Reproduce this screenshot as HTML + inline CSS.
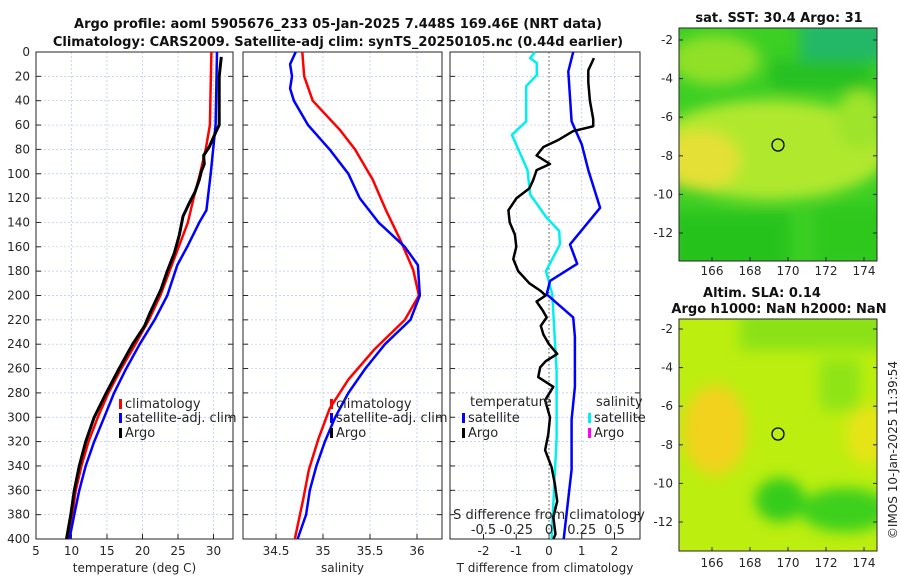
<!DOCTYPE html>
<html><head><meta charset="utf-8"><style>
body{margin:0;background:#fff;width:900px;height:580px;overflow:hidden}
svg{display:block;font-family:"DejaVu Sans","Liberation Sans",sans-serif}
.t{font-size:13px;font-weight:bold;fill:#111}
.k{font-size:12px;fill:#262626}
.lg{font-size:13px}
</style></head><body>
<svg id="fig" width="900" height="580" viewBox="0 0 900 580">
<defs>
<filter id="bl" x="-20%" y="-20%" width="140%" height="140%"><feGaussianBlur stdDeviation="7"/></filter>
<clipPath id="c1"><rect x="679" y="28" width="198" height="233"/></clipPath>
<clipPath id="c2"><rect x="679" y="319" width="198" height="232"/></clipPath>
</defs>
<text class="t" x="338" y="28" text-anchor="middle">Argo profile: aoml 5905676_233 05-Jan-2025 7.448S 169.46E (NRT data)</text>
<text class="t" x="338" y="46" text-anchor="middle">Climatology: CARS2009. Satellite-adj clim: synTS_20250105.nc (0.44d earlier)</text>
<g id="panels"></g>
<g clip-path="url(#c1)">
<rect x="679" y="28" width="198" height="233" fill="#3ccf24"/>
<g filter="url(#bl)">
<rect x="800" y="20" width="90" height="40" fill="#22b868"/>
<ellipse cx="770" cy="150" rx="120" ry="50" fill="#b0e82e"/>
<ellipse cx="700" cy="160" rx="40" ry="30" fill="#e4e034"/>
<ellipse cx="715" cy="60" rx="45" ry="25" fill="#8fe028"/>
<ellipse cx="860" cy="120" rx="25" ry="30" fill="#9ee42a"/>
<rect x="670" y="212" width="120" height="60" fill="#26c21e"/>
<rect x="815" y="205" width="80" height="60" fill="#2fc81e"/>
<rect x="770" y="60" width="100" height="30" fill="#28c022"/>
</g>
<circle cx="778" cy="145" r="6" fill="none" stroke="#000" stroke-width="1.3"/>
</g>
<rect x="679" y="28" width="198" height="233" fill="none" stroke="#262626"/>
<g clip-path="url(#c2)">
<rect x="679" y="319" width="198" height="232" fill="#bcee10"/>
<g filter="url(#bl)">
<rect x="740" y="310" width="150" height="40" fill="#8ae212"/>
<ellipse cx="715" cy="430" rx="32" ry="45" fill="#f2d21e"/>
<ellipse cx="868" cy="435" rx="22" ry="30" fill="#e6e414"/>
<ellipse cx="780" cy="500" rx="25" ry="22" fill="#34cc1e"/>
<ellipse cx="845" cy="510" rx="45" ry="22" fill="#3cd01e"/>
<rect x="820" y="360" width="40" height="50" fill="#8ee412"/>
</g>
<circle cx="778" cy="434" r="6" fill="none" stroke="#000" stroke-width="1.3"/>
</g>
<rect x="679" y="319" width="198" height="232" fill="none" stroke="#262626"/>
<text class="t" x="779" y="22" text-anchor="middle">sat. SST: 30.4 Argo: 31</text>
<text class="t" x="762" y="297" text-anchor="middle">Altim. SLA: 0.14</text>
<text class="t" x="779" y="313" text-anchor="middle">Argo h1000: NaN h2000: NaN</text>
<text class="k" transform="translate(897,450) rotate(-90)" text-anchor="middle">©IMOS 10-Jan-2025 11:39:54</text>
<g id="maps"></g>
</svg>
<script>
// ---- data ----
const depthTicks=[0,20,40,60,80,100,120,140,160,180,200,220,240,260,280,300,320,340,360,380,400];
const tTicks=[5,10,15,20,25,30];
const sTicks=[34.5,35,35.5,36];
const dTicks=[-2,-1,0,1,2];
const dsTicks=[-0.5,-0.25,0,0.25,0.5];
const dsTickLabels=["-0.5","-0.25","0","0.25","0.5"];
const climTdepth=[0,60,80,100,120,140,160,180,200,220,240,260,280,300,320,340,360,380,400];
const climT=[29.7,29.5,28.9,28.1,27.2,26.4,25.1,23.8,22.5,20.9,19,17,15.2,13.7,12.4,11.4,10.6,10.1,9.6];
const satTdepth=[0,60,100,130,140,160,175,200,220,240,260,280,300,320,340,360,380,400];
const satT=[30.5,30.3,29.6,29,28,26.3,24.9,23.5,21.7,19.6,17.7,16,14.6,13.2,12,11.1,10.4,9.7];
const argoTdepth=[4,20,40,60,65,70,78,85,92,98,105,115,125,135,150,165,180,195,205,215,225,240,260,280,300,320,340,360,380,400];
const argoT=[31.1,30.8,30.8,30.8,30.4,30,29.4,28.6,28.7,28.3,28,27.4,26.5,25.7,25.2,24.5,23.5,22.6,21.8,21,20.3,18.6,16.7,14.9,13.2,12,11.1,10.4,9.9,9.3];
const climSdepth=[0,20,40,64,80,105,130,154,179,200,220,244,269,293,318,343,367,400];
const climS=[34.78,34.8,34.89,35.18,35.34,35.53,35.67,35.82,35.96,36.02,35.87,35.55,35.27,35.07,34.95,34.85,34.79,34.7];
const satSdepth=[0,10,20,30,40,60,80,100,120,140,160,175,200,220,240,260,280,300,320,340,360,380,400];
const satS=[34.71,34.65,34.67,34.65,34.69,34.84,35.07,35.27,35.39,35.59,35.87,36.01,36.03,35.93,35.66,35.45,35.27,35.13,35.02,34.93,34.86,34.82,34.73];
const dArgoDepth=[5,15,25,40,55,61,65,72,78,85,92,97,105,112,120,130,140,150,160,170,180,190,196,200,205,212,218,225,232,240,248,254,259,267,275,286,300,314,327,341,355,369,382,396,400];
const dArgoT=[1.37,1.2,1.2,1.25,1.35,1.35,0.74,0.3,-0.17,-0.38,0.03,-0.38,-0.48,-0.6,-0.99,-1.24,-1.2,-1.04,-1.0,-1.09,-0.94,-0.6,-0.27,-0.1,-0.38,-0.2,-0.07,-0.25,-0.17,0.0,0.25,-0.1,-0.27,-0.33,0.13,-0.12,0.03,-0.02,-0.12,0.08,0.18,0.25,0.13,0.2,0.13];
const dSatTdepth=[0,16,57,76,97,128,158,174,188,199,218,234,275,302,343,400];
const dSatT=[0.74,0.59,0.69,1.0,1.2,1.56,0.64,0.86,0.03,-0.07,0.74,0.79,0.79,0.69,0.69,0.45];
const dSatSdepth=[0,5,9,19,28,57,68,97,117,136,147,158,180,199,262,317,400];
const dSatS=[-0.106,-0.144,-0.093,-0.093,-0.174,-0.174,-0.283,-0.164,-0.144,-0.018,0.078,0.083,-0.023,0.025,0.058,0.058,0.02];
const mapLon=[166,168,170,172,174];
const mapLat=[-2,-4,-6,-8,-10,-12];

// ---- scales ----
const NS='http://www.w3.org/2000/svg';
const Y0=52,Y1=539;
const yD=d=>Y0+d*(Y1-Y0)/400;
const xT=v=>36+(v-5)*7.1;
const xS=v=>323+(v-35)*94;
const xD=v=>549+v*32.75;
const xDS=v=>549+v*131;
const root=document.getElementById('panels');
function el(tag,attrs,parent){const e=document.createElementNS(NS,tag);for(const k in attrs)e.setAttribute(k,attrs[k]);(parent||root).appendChild(e);return e;}
function txt(s,x,y,anchor,parent){const e=el('text',{x:x,y:y,'text-anchor':anchor||'middle',class:'k'},parent);e.textContent=s;return e;}
function line(xs,ds,xf,color,w,name){const p=xs.map((v,i)=>xf(v).toFixed(1)+','+yD(ds[i]).toFixed(1)).join(' ');const e=el('polyline',{points:p,fill:'none',stroke:color,'stroke-width':w,'stroke-linejoin':'round'});

return e;}
const panels=[{x0:36,x1:233,ticks:tTicks,xf:xT,lab:'temperature (deg C)',name:'temperature-panel'},
{x0:243,x1:442,ticks:sTicks,xf:xS,lab:'salinity',name:'salinity-panel'},
{x0:450,x1:640,ticks:dTicks,xf:xD,lab:'T difference from climatology',name:'difference-panel'}];
panels.forEach((P,pi)=>{
 const g=el('g',{});
 
 
 depthTicks.forEach(d=>{if(d>0&&d<400)el('line',{x1:P.x0,x2:P.x1,y1:yD(d),y2:yD(d),stroke:'#b8c4e4','stroke-width':0.7,'stroke-dasharray':'2,2'},g);
  el('line',{x1:P.x0,x2:P.x0+5,y1:yD(d),y2:yD(d),stroke:'#262626'},g);el('line',{x1:P.x1,x2:P.x1-5,y1:yD(d),y2:yD(d),stroke:'#262626'},g);});
 P.ticks.forEach((t,i)=>{const x=P.xf(t);el('line',{x1:x,x2:x,y1:Y0,y2:Y1,stroke:'#b8c4e4','stroke-width':0.7,'stroke-dasharray':'2,2'},g);
  el('line',{x1:x,x2:x,y1:Y1,y2:Y1-5,stroke:'#262626'},g);
  const l=txt(String(t),x,555,'middle',g);});
 const xl=txt(P.lab,(P.x0+P.x1)/2,572,'middle',g);
 
 
 el('rect',{x:P.x0,y:Y0,width:P.x1-P.x0,height:Y1-Y0,fill:'none',stroke:'#262626'},g);
});
depthTicks.forEach(d=>{const l=txt(String(d),30,yD(d)+4,'end');});
line(climT,climTdepth,xT,'#ff0000',2.5,'climatology-temperature-line');
line(satT,satTdepth,xT,'#0000ff',2.5,'satellite-temperature-line');
line(argoT,argoTdepth,xT,'#000',3,'argo-temperature-line');
line(climS,climSdepth,xS,'#ff0000',2.5,'climatology-salinity-line');
line(satS,satSdepth,xS,'#0000ff',2.5,'satellite-salinity-line');
el('line',{x1:549,x2:549,y1:Y0,y2:Y1,stroke:'#555','stroke-width':1,'stroke-dasharray':'1.5,2.5'});
line(dSatS,dSatSdepth,xDS,'#00f0f0',2.5,'salinity-satellite-difference-line');
line(dSatT,dSatTdepth,xD,'#0000ff',2.5,'temperature-satellite-difference-line');
line(dArgoT,dArgoDepth,xD,'#000',2.5,'temperature-argo-difference-line');
const sl=txt('S difference from climatology',549,519);sl.setAttribute('class','k lg');
dsTicks.forEach((t,i)=>{const l=txt(dsTickLabels[i],xDS(t),534);l.setAttribute('class','k lg');});
function leg(x,y,color,label,name){const g=el('g',{});
 el('rect',{x:x,y:y-9,width:3,height:10,fill:color},g);const t=txt(label,x+6,y,'start',g);t.setAttribute('class','k lg');}
leg(119,408,'#ff0000','climatology','legend-climatology');
leg(119,422,'#0000ff','satellite-adj. clim','legend-satellite-adj');
leg(119,437,'#000','Argo','legend-argo');
leg(330,408,'#ff0000','climatology','legend-climatology-s');
leg(330,422,'#0000ff','satellite-adj. clim','legend-satellite-adj-s');
leg(330,437,'#000','Argo','legend-argo-s');
txt('temperature',470,406,'start').setAttribute('class','k lg');
leg(462,422,'#0000ff','satellite','legend-t-satellite');
leg(462,437,'#000','Argo','legend-t-argo');
txt('salinity',596,406,'start').setAttribute('class','k lg');
leg(588,422,'#00f0f0','satellite','legend-s-satellite');
leg(588,437,'#ff00ff','Argo','legend-s-argo');
const mg=document.getElementById('maps');
[[28,261,270],[319,551,562]].forEach(([t,b,ly],mi)=>{
 mapLon.forEach(v=>{const x=712+(v-166)*19;el('line',{x1:x,x2:x,y1:b,y2:b-4,stroke:'#262626'},mg);txt(String(v),x,ly+5,'middle',mg);});
 mapLat.forEach(v=>{const y=(mi?329:40)+(-2-v)*19.3;el('line',{x1:679,x2:683,y1:y,y2:y,stroke:'#262626'},mg);el('line',{x1:877,x2:873,y1:y,y2:y,stroke:'#262626'},mg);txt(String(v),673,y+4,'end',mg);});
});
</script>
</body></html>
